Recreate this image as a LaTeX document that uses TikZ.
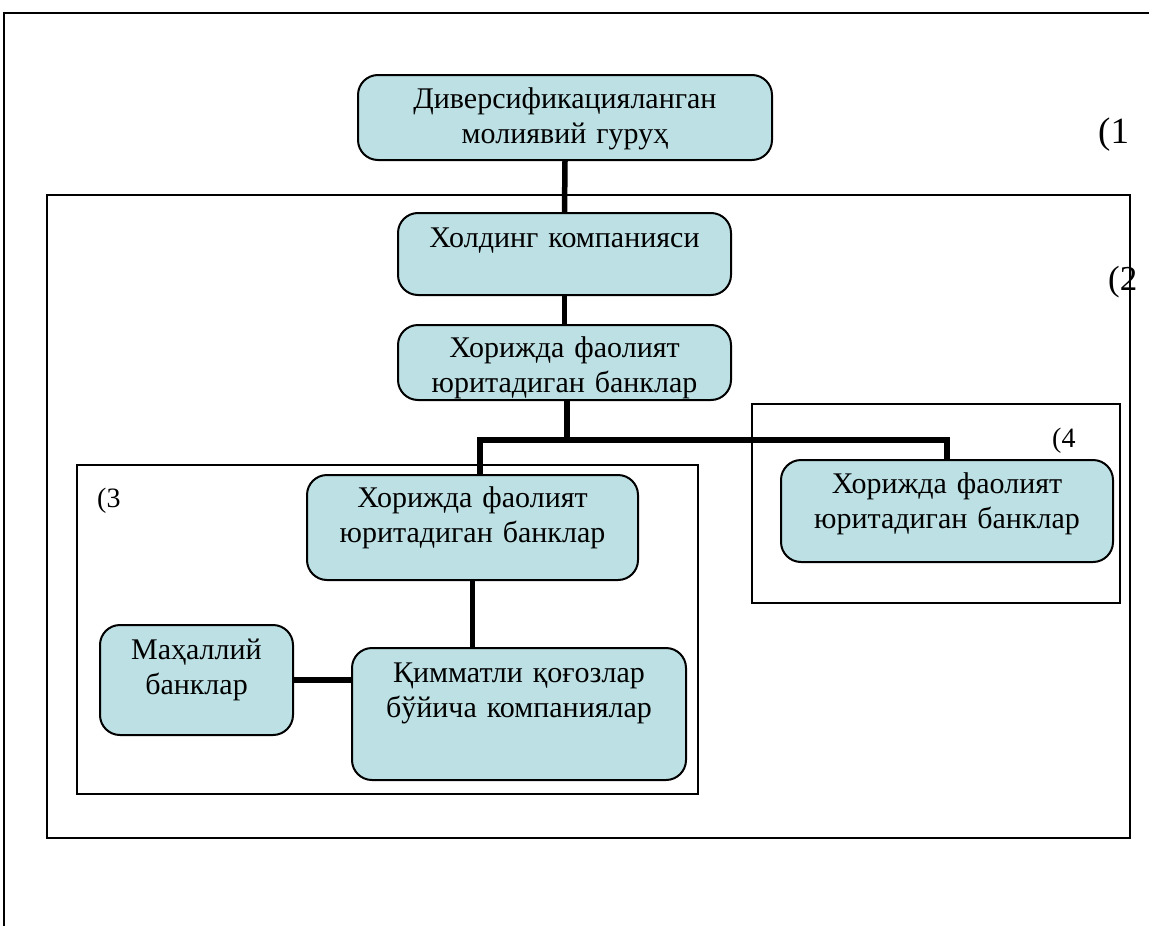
\documentclass[tikz,border=0pt]{standalone}
\usepackage{fontspec}
\setmainfont{Liberation Serif}
\definecolor{boxfill}{RGB}{188,224,227}
\tikzset{
  bx/.style={draw=black, line width=2pt, fill=boxfill, rounded corners=20pt, inner sep=0pt},
  txt/.style={anchor=base, align=center, inner sep=0pt, font=\fontsize{30}{35}\selectfont},
  frm/.style={draw=black, line width=2.2pt},
  lnk/.style={line width=5.5pt, line join=miter},
  lbl/.style={anchor=base west, inner sep=0pt}
}
\begin{document}
\begin{tikzpicture}[x=1pt,y=-1pt]
\useasboundingbox (0,0) rectangle (1149,926);
% outer frame (cut off)
\draw[frm] (4,926) -- (4,13) -- (1149,13);
% group frames
\draw[frm] (47,195) rectangle (1130,838);
\draw[frm] (77,465) rectangle (698,794);
\draw[frm] (752,404) rectangle (1120,603);
% boxes
\node[bx, minimum width=414pt, minimum height=85pt] (b1) at (565,117.5) {};
\node[bx, minimum width=333pt, minimum height=82pt] (b2) at (564.5,254) {};
\node[bx, minimum width=333pt, minimum height=75pt] (b3) at (564.5,362.5) {};
\node[bx, minimum width=332pt, minimum height=102pt] (b4) at (947,511) {};
\node[bx, minimum width=331pt, minimum height=105pt] (b5) at (472.5,527.5) {};
\node[bx, minimum width=193pt, minimum height=110pt] (b6) at (196.5,680) {};
\node[bx, minimum width=334pt, minimum height=132pt] (b7) at (519,714) {};
% texts
\node[txt, text width=414pt] (t1) at ([yshift=-34pt]b1.north) {Диверсификацияланган\\молиявий гуруҳ};
\node[txt, text width=333pt] (t2) at ([yshift=-35pt]b2.north) {Холдинг компанияси};
\node[txt, text width=333pt] (t3) at ([yshift=-33pt]b3.north) {Хорижда фаолият\\юритадиган банклар};
\node[txt, text width=332pt] (t4) at ([yshift=-34pt]b4.north) {Хорижда фаолият\\юритадиган банклар};
\node[txt, text width=331pt] (t5) at ([yshift=-33pt]b5.north) {Хорижда фаолият\\юритадиган банклар};
\node[txt, text width=193pt] (t6) at ([yshift=-35pt]b6.north) {Маҳаллий\\банклар};
\node[txt, text width=334pt] (t7) at ([yshift=-35pt]b7.north) {Қимматли қоғозлар\\бўйича компаниялар};
% labels
\node[lbl, font=\fontsize{37}{40}\selectfont] (l1) at (1098,143) {(1};
\node[lbl, font=\fontsize{35}{38}\selectfont] (l2) at (1108,290) {(2};
\node[lbl, font=\fontsize{28}{30}\selectfont] (l3) at (97,507) {(3};
\node[lbl, font=\fontsize{28}{30}\selectfont] (l4) at (1052,447) {(4};
% connectors
\coordinate (j) at (567,440);
\draw[lnk] (b1.south) -- (b2.north);
\draw[lnk] (b2.south) -- (b3.south |- b2.south) -- (b3.north);
\draw[lnk] (b3.south -| j) -- (j);
\draw[lnk] (480,440) -- (b4.north |- j) -- (b4.north);
\draw[lnk] (480,437.25) -- (b5.north -| 480,0);
\draw[lnk] (b5.south) -- (b5.south |- b7.north);
\draw[lnk] (b6.east) -- (b6.east -| b7.west);
\end{tikzpicture}
\end{document}
